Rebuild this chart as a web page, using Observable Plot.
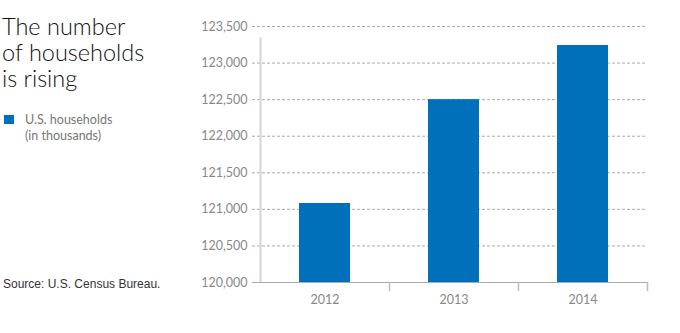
<!DOCTYPE html>
<html>
<head>
<meta charset="utf-8">
<script src="https://cdn.jsdelivr.net/npm/d3@7"></script>
<script src="https://cdn.jsdelivr.net/npm/@observablehq/plot@0.6"></script>
<style>
  html, body { margin: 0; padding: 0; background: #fff; }
  #wrap { position: relative; width: 680px; height: 333px; overflow: hidden; }
  #title { position: absolute; left: 2px; top: 13px; font-family: Lato, sans-serif; font-weight: 300; font-size: 23.5px; line-height: 26px; color: #111; }
  #legend { position: absolute; left: 4px; top: 112px; font-family: Lato, sans-serif; font-size: 12.5px; line-height: 16px; color: #777; }
  #legend .sw { position: absolute; left: 0; top: 3px; width: 10px; height: 9px; background: #0070bb; }
  #legend .tx { margin-left: 21px; }
  #source { position: absolute; left: 3px; top: 277px; font-family: "Liberation Sans", Arial, sans-serif; font-size: 12px; color: #333; }
  #chart { position: absolute; left: 0; top: 0; }
</style>
</head>
<body>
<div id="wrap">
  <div id="chart"></div>
  <div id="title">The number<br>of households<br>is rising</div>
  <div id="legend"><div class="sw"></div><div class="tx">U.S. households<br>(in thousands)</div></div>
  <div id="source">Source: U.S. Census Bureau.</div>
</div>
<script>
const years = [2012, 2013, 2014];
const households = [121080, 122500, 123240];
const yTicks = [120000, 120500, 121000, 121500, 122000, 122500, 123000, 123500];
const barColor = "#0070bb";

const data = years.map((y, i) => ({year: y, value: households[i]}));
const bounds = [2012.5, 2013.5, 2014.5];

const plot = Plot.plot({
  width: 680,
  height: 333,
  marginLeft: 252,
  marginRight: 33,
  marginTop: 26,
  marginBottom: 51,
  style: {fontFamily: "Lato, sans-serif", fontSize: "12.5px", color: "#888", background: "transparent"},
  x: {type: "linear", domain: [2011.5, 2014.5], range: [260, 647]},
  y: {domain: [120000, 123500]},
  marks: [
    Plot.ruleY(yTicks.filter(t => t > 120000), {stroke: "#aaa", strokeDasharray: "3,2", strokeWidth: 1}),
    Plot.rectY(data, {x1: d => d.year - 0.5, x2: d => d.year + 0.5, y1: 120000, y2: "value", fill: barColor, insetLeft: 39, insetRight: 39}),
    Plot.ruleY([120000], {stroke: "#aaa", strokeWidth: 1}),
    Plot.ruleX([2011.5], {y1: 120000, y2: 123470, stroke: "#d4d4d4", strokeWidth: 2, insetBottom: -9}),
    Plot.axisX({ticks: bounds, tickSize: 9, tickFormat: () => "", stroke: "#bbb", strokeWidth: 1.5, label: null}),
    Plot.axisX({ticks: years, tickSize: 0, tickPadding: 13, tickFormat: d => String(d), fill: "#888", label: null}),
    Plot.axisY({ticks: yTicks, tickSize: 0, tickPadding: 5, tickFormat: d3.format(","), fill: "#888", label: null})
  ]
});
document.getElementById("chart").appendChild(plot);
</script>
</body>
</html>
